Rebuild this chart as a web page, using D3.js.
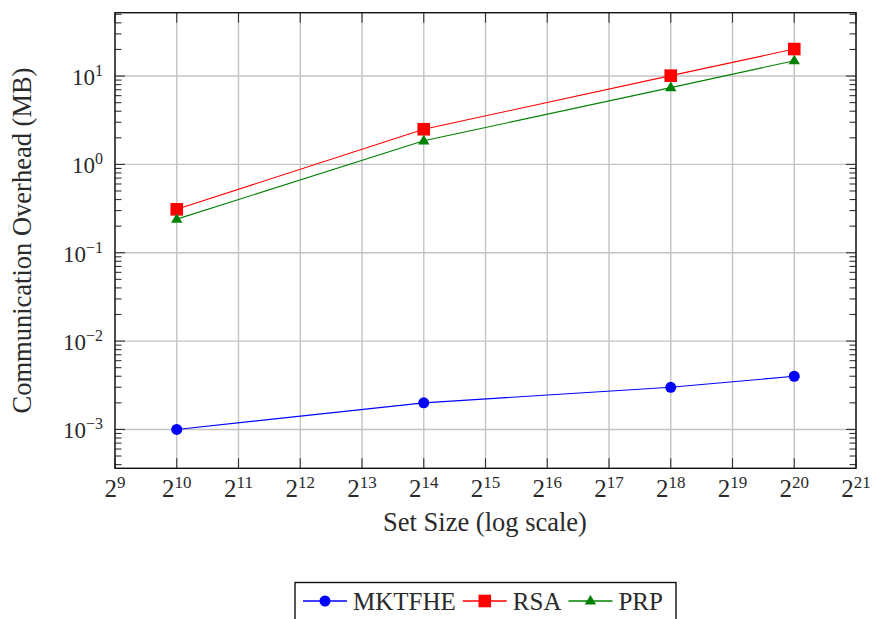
<!DOCTYPE html>
<html>
<head>
<meta charset="utf-8">
<script src="https://cdn.jsdelivr.net/npm/d3@7"></script>
<style>
  html, body { margin: 0; padding: 0; background: #fff; }
  svg { display: block; }
</style>
</head>
<body>
<svg id="chart" width="872" height="619"></svg>
<script>
// ---- data ----
const xExponents = [10, 14, 18, 20];           // set size = 2^e
const seriesNames = ["MKTFHE", "RSA", "PRP"];
const mktfhe = [0.001, 0.002, 0.003, 0.004];
const rsa = [0.31, 2.5, 10.1, 20.2];
const prp = [0.24, 1.85, 7.4, 14.9];
const xTickExponents = [9, 10, 11, 12, 13, 14, 15, 16, 17, 18, 19, 20, 21];
const yTickExponents = [-3, -2, -1, 0, 1];
const xLabel = "Set Size (log scale)";
const yLabel = "Communication Overhead (MB)";

const colors = { MKTFHE: "#0000ff", RSA: "#ff0000", PRP: "#008000" };
const shapes = { MKTFHE: "circle", RSA: "square", PRP: "triangle" };
const values = { MKTFHE: mktfhe, RSA: rsa, PRP: prp };

const FONT = "Liberation Serif";
const svg = d3.select("#chart");
const L = 115, R = 856, T = 12.7, B = 468.3;

const x = d3.scaleLog().base(2).domain([Math.pow(2, 9), Math.pow(2, 21)]).range([L, R]);
const y = d3.scaleLog().base(10).domain([Math.pow(10, -3.44), Math.pow(10, 1.717)]).range([B, T]);

function txt(sel) {
  return sel.append("text").attr("font-family", FONT).attr("fill", "#2a2a2a");
}

// grid
const grid = svg.append("g");
xTickExponents.forEach(e => {
  grid.append("line").attr("x1", x(Math.pow(2, e))).attr("x2", x(Math.pow(2, e)))
    .attr("y1", T).attr("y2", B).attr("stroke", "#c4c4c4").attr("stroke-width", 1.4);
});
yTickExponents.forEach(e => {
  grid.append("line").attr("y1", y(Math.pow(10, e))).attr("y2", y(Math.pow(10, e)))
    .attr("x1", L).attr("x2", R).attr("stroke", "#c4c4c4").attr("stroke-width", 1.4);
});

// ticks (inside, both sides)
const ticks = svg.append("g").attr("stroke", "#333").attr("stroke-width", 1.1);
const majorLen = 10, minorLen = 6.5;
xTickExponents.forEach(e => {
  const px = x(Math.pow(2, e));
  ticks.append("line").attr("x1", px).attr("x2", px).attr("y1", B).attr("y2", B - majorLen);
  ticks.append("line").attr("x1", px).attr("x2", px).attr("y1", T).attr("y2", T + majorLen);
});
for (let e = -4; e <= 1; e++) {
  for (let m = 1; m <= 9; m++) {
    const v = m * Math.pow(10, e);
    const py = y(v);
    if (py < T - 0.5 || py > B + 0.5) continue;
    const len = m === 1 ? majorLen : minorLen;
    ticks.append("line").attr("x1", L).attr("x2", L + len).attr("y1", py).attr("y2", py);
    ticks.append("line").attr("x1", R).attr("x2", R - len).attr("y1", py).attr("y2", py);
  }
}

// series lines
const line = d3.line().x((d, i) => x(Math.pow(2, xExponents[i]))).y(d => y(d));
seriesNames.forEach(name => {
  svg.append("path").datum(values[name]).attr("d", line)
    .attr("fill", "none").attr("stroke", colors[name]).attr("stroke-width", 1.1);
});

function drawMarker(g, shape, cx, cy, color) {
  if (shape === "circle") {
    g.append("circle").attr("cx", cx).attr("cy", cy).attr("r", 5.5).attr("fill", color);
  } else if (shape === "square") {
    g.append("rect").attr("x", cx - 6.3).attr("y", cy - 6.3).attr("width", 12.6).attr("height", 12.6).attr("fill", color);
  } else {
    const s = 6;
    g.append("path").attr("d", `M${cx},${cy - s} L${cx + s * 0.95},${cy + s * 0.6} L${cx - s * 0.95},${cy + s * 0.6} Z`).attr("fill", color);
  }
}
seriesNames.forEach(name => {
  const g = svg.append("g");
  values[name].forEach((v, i) => drawMarker(g, shapes[name], x(Math.pow(2, xExponents[i])), y(v), colors[name]));
});

// frame
svg.append("rect").attr("x", L).attr("y", T).attr("width", R - L).attr("height", B - T)
  .attr("fill", "none").attr("stroke", "#111").attr("stroke-width", 1.4);

// tick labels
xTickExponents.forEach(e => {
  const t = txt(svg).attr("x", x(Math.pow(2, e))).attr("y", 497).attr("text-anchor", "middle")
    .attr("font-size", 25);
  t.append("tspan").text("2");
  t.append("tspan").attr("dy", -9.5).attr("font-size", 17).text(String(e));
});
yTickExponents.forEach(e => {
  const t = txt(svg).attr("x", 103).attr("y", y(Math.pow(10, e)) + 9).attr("text-anchor", "end")
    .attr("font-size", 23);
  t.append("tspan").text("10");
  t.append("tspan").attr("dy", -9).attr("font-size", 16).text(e < 0 ? "\u2212" + Math.abs(e) : String(e));
});

// axis labels
txt(svg).attr("x", 485).attr("y", 531).attr("text-anchor", "middle")
  .attr("font-size", 26.5).text(xLabel);
txt(svg).attr("transform", `translate(31,${(T + B) / 2}) rotate(-90)`).attr("text-anchor", "middle")
  .attr("font-size", 26.5).text(yLabel);

// legend
const lg = svg.append("g");
lg.append("rect").attr("x", 295).attr("y", 582.5).attr("width", 381).attr("height", 60)
  .attr("fill", "#fff").attr("stroke", "#111").attr("stroke-width", 1.4);
let lx = 303;
const ly = 601;
seriesNames.forEach(name => {
  lg.append("line").attr("x1", lx).attr("x2", lx + 44).attr("y1", ly).attr("y2", ly)
    .attr("stroke", colors[name]).attr("stroke-width", 1.4);
  drawMarker(lg, shapes[name], lx + 22, ly, colors[name]);
  const t = txt(lg).attr("x", lx + 50).attr("y", ly + 8.5).attr("font-size", 25).text(name);
  lx = lx + 50 + t.node().getComputedTextLength() + 7;
});
</script>
</body>
</html>
